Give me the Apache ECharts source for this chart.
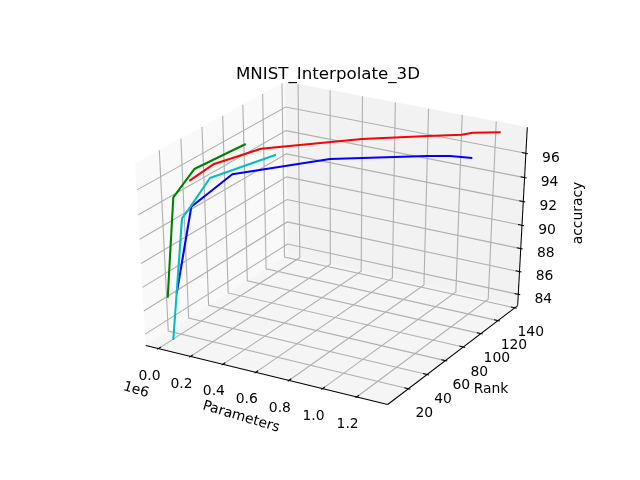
<!DOCTYPE html>
<html><head><meta charset="utf-8"><style>html,body{margin:0;background:#fff}#c{width:640px;height:480px}</style>
<script src="https://cdn.jsdelivr.net/npm/echarts@6/dist/echarts.min.js"></script></head><body><div id="c"></div>
<script>
const xTicks=[0,200000,400000,600000,800000,1000000,1200000];
const xLabels=['0.0','0.2','0.4','0.6','0.8','1.0','1.2'];
const yTicks=[20,40,60,80,100,120,140];
const zTicks=[84,86,88,90,92,94,96];
const redParams=[127500,216500,382600,741100,978400,1101000,1144000,1245900];
const redRank=[15,24,43,83,110,124,128,140];
const redAcc=[96.48,97.61,98.4,98.26,97.88,97.67,97.76,97.51];
const blueParams=[66800,126500,270500,598700,936700,1021500,1101800];
const blueRank=[8,16,33,75,117,127,137];
const blueAcc=[87.43,94.36,96.54,96.65,95.83,95.58,95.16];
const greenParams=[22700,39400,81000,184600];
const greenRank=[6,13,27,60];
const greenAcc=[87.03,95.02,96.72,97.45];
const cyanParams=[24600,46500,58400,95600,212600];
const cyanRank=[9,19,25,39,85];
const cyanAcc=[83.22,93.03,93.66,95.46,95.48];
const lim={x:[-50800,1351000],y:[1.3,140.6],z:[83.31,97.81]};
const dist=10,el=30*Math.PI/180,az=-60*Math.PI/180;
const Rc=[.5,.5,.5],p=[Math.cos(el)*Math.cos(az),Math.cos(el)*Math.sin(az),Math.sin(el)];
const E=Rc.map((v,i)=>v+dist*p[i]);
const cross=(a,b)=>[a[1]*b[2]-a[2]*b[1],a[2]*b[0]-a[0]*b[2],a[0]*b[1]-a[1]*b[0]];
const norm=a=>{const n=Math.hypot(...a);return a.map(v=>v/n)};const dot=(a,b)=>a[0]*b[0]+a[1]*b[1]+a[2]*b[2];
const w=norm(p),u=norm(cross([0,0,1],w)),v=cross(w,u);
function proj(x,y,z){const P=[(x-lim.x[0])/(lim.x[1]-lim.x[0])-E[0],(y-lim.y[0])/(lim.y[1]-lim.y[0])-E[1],(z-lim.z[0])/(lim.z[1]-lim.z[0])-E[2]];
 const d=-dot(P,w),sx=dot(P,u)/d,sy=dot(P,v)/d;
 return [80+(sx+0.095)/0.185*496,427.2-(sy+0.095)/0.185*369.6];}
const rx=lim.x[1]-lim.x[0],ry=lim.y[1]-lim.y[0],rz=lim.z[1]-lim.z[0];
const x0=lim.x[0]-rx/48,x1=lim.x[1]+rx/48,y0=lim.y[0]-ry/48,y1=lim.y[1]+ry/48,z0=lim.z[0]-rz/48,z1=lim.z[1]+rz/48;
const dX=rx/12,dY=ry/12;
const GRID='#b0b0b0',FONT='13.9px "DejaVu Sans"';
function render(params,api){
 const c=pt=>api.coord(proj(...pt));const kids=[];
 const poly=(pts,col)=>kids.push({type:'polygon',shape:{points:pts.map(c)},style:{fill:col,stroke:col,lineWidth:0.5}});
 const line=(pts,col,lw)=>kids.push({type:'polyline',shape:{points:pts.map(c)},style:{fill:null,stroke:col,lineWidth:lw}});
 const txt=(s,px,py)=>{const q=api.coord(px);kids.push({type:'text',x:q[0]+py[0],y:q[1]+py[1],style:{text:s,font:FONT,fill:'#000',align:'center',verticalAlign:'middle'}})};
 poly([[x0,y0,z0],[x0,y1,z0],[x0,y1,z1],[x0,y0,z1]],'#f9f9f9');
 poly([[x0,y1,z0],[x1,y1,z0],[x1,y1,z1],[x0,y1,z1]],'#f2f2f2');
 poly([[x0,y0,z0],[x1,y0,z0],[x1,y1,z0],[x0,y1,z0]],'#f5f5f5');
 xTicks.forEach(t=>line([[t,y0,z0],[t,y1,z0],[t,y1,z1]],GRID,1.11));
 yTicks.forEach(t=>line([[x1,t,z0],[x0,t,z0],[x0,t,z1]],GRID,1.11));
 zTicks.forEach(t=>line([[x1,y1,t],[x0,y1,t],[x0,y0,t]],GRID,1.11));
 line([[x0,y0,z0],[x1,y0,z0]],'#000',1.04);line([[x1,y0,z0],[x1,y1,z0]],'#000',1.04);line([[x1,y1,z0],[x1,y1,z1]],'#000',1.04);
 xTicks.forEach((t,i)=>{line([[t,y0-0.1*dY,z0],[t,y0+0.2*dY,z0]],'#000',1.04);txt(xLabels[i],proj(t,y0,z0),[-9,27.5])});
 yTicks.forEach(t=>{line([[x1+0.1*dX,t,z0],[x1-0.2*dX,t,z0]],'#000',1.04);txt(String(t),proj(x1,t,z0),[16,25])});
 zTicks.forEach(t=>{line([[x1+0.1*dX,y1,t],[x1-0.2*dX,y1,t]],'#000',1.04);txt(String(t),proj(x1,y1,t),[25,5])});
 const abs=(s,a,b,r)=>{const q=api.coord([a,b]);kids.push({type:'text',x:q[0],y:q[1],rotation:r||0,style:{text:s,font:FONT,fill:'#000',align:'center',verticalAlign:'middle'}})};
 abs('Parameters',241,417,-0.29);abs('1e6',136,390,-0.29);abs('Rank',491,389,0);abs('accuracy',578,213,Math.PI/2);
 return {type:'group',children:kids};
}
const trace=(name,xs,ys,zs,color)=>({type:'line',name,clip:false,silent:true,symbol:'none',smooth:false,
 data:xs.map((x,i)=>proj(x,ys[i],zs[i])),lineStyle:{color,width:2.08,cap:'butt',join:'round'},z:5});
const chart=echarts.init(document.getElementById('c'),null,{renderer:'canvas'});
chart.setOption({animation:false,
 title:{text:'MNIST_Interpolate_3D',left:328,top:66,padding:0,textAlign:'center',textStyle:{fontFamily:'DejaVu Sans',fontSize:16.67,fontWeight:'normal',color:'#000'}},
 grid:{left:0,right:0,top:0,bottom:0},
 xAxis:{type:'value',min:0,max:640,show:false},yAxis:{type:'value',min:0,max:480,inverse:true,show:false},
 series:[{type:'custom',silent:true,clip:false,data:[[0,0]],renderItem:render,z:1},
  trace('red',redParams,redRank,redAcc,'#ff0000'),
  trace('green',greenParams,greenRank,greenAcc,'#008000'),
  trace('blue',blueParams,blueRank,blueAcc,'#0000ff'),
  trace('cyan',cyanParams,cyanRank,cyanAcc,'#00bfbf')]});
</script></body></html>
